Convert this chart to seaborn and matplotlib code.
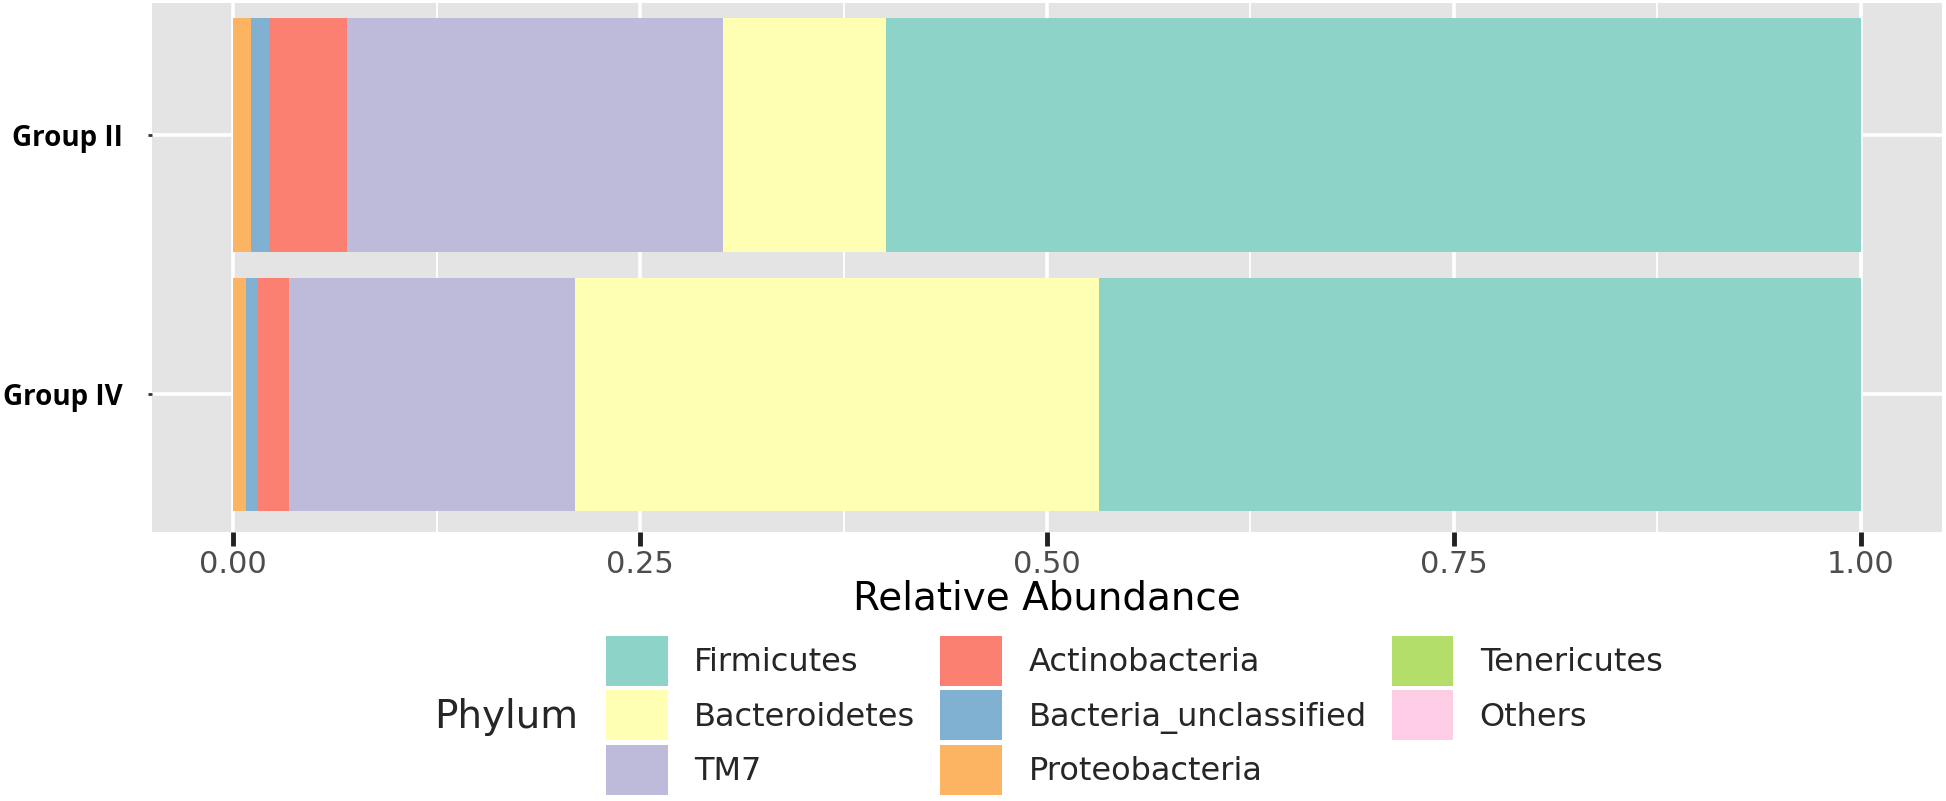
import matplotlib
matplotlib.use("Agg")
import matplotlib.pyplot as plt
from matplotlib.patches import Patch
import numpy as np
import pandas as pd
import seaborn as sns

groups = ["Group II", "Group IV"]
# legend order (factor levels); the last level sits at the left end of the stack
phyla = ["Firmicutes", "Bacteroidetes", "TM7", "Actinobacteria",
         "Bacteria_unclassified", "Proteobacteria", "Tenericutes", "Others"]
group_ii = [0.599, 0.100, 0.231, 0.048, 0.011, 0.011, 0.0, 0.0]
group_iv = [0.468, 0.322, 0.176, 0.019, 0.007, 0.008, 0.0, 0.0]
x_ticks = [0.0, 0.25, 0.5, 0.75, 1.0]
x_tick_labels = ["0.00", "0.25", "0.50", "0.75", "1.00"]

sns.set_style("darkgrid", {"axes.facecolor": "#E4E4E4", "grid.color": "white",
                           "xtick.bottom": True, "ytick.left": True})
plt.rcParams['font.family'] = ['DejaVu Sans']

palette = dict(zip(phyla, sns.color_palette("Set3", 8)))

df = pd.DataFrame({"group": np.repeat(groups, len(phyla)),
                   "phylum": phyla * 2,
                   "abundance": group_ii + group_iv})
df["phylum"] = pd.Categorical(df.phylum, categories=phyla[::-1], ordered=True)
df = df.sort_values(["group", "phylum"])
df["right"] = df.groupby("group")["abundance"].cumsum()

fig, ax = plt.subplots(figsize=(19.46, 8.01), dpi=100)
fig.subplots_adjust(left=0.0781, right=0.998, bottom=0.3358, top=0.9965)

# draw the stack from the right end backwards so each shorter bar sits on top
for p in phyla:
    sub = df[df.phylum == p]
    sns.barplot(data=sub, x="right", y="group", order=groups, color=palette[p],
                width=0.9, saturation=1, errorbar=None, linewidth=0, ax=ax)

ax.set_xlim(-0.05, 1.05)
ax.set_ylim(1.53, -0.508)
ax.set_xticks(x_ticks, x_tick_labels)
ax.set_xticks([0.125, 0.375, 0.625, 0.875], minor=True)
ax.set_axisbelow(True)
ax.grid(False)
ax.xaxis.grid(True, which='major', color='white', linewidth=2.6)
ax.xaxis.grid(True, which='minor', color='white', linewidth=1.3)
ax.yaxis.grid(True, which='major', color='white', linewidth=2.6)
for s in ax.spines.values():
    s.set_visible(False)

ax.tick_params(axis='x', which='major', direction='out', bottom=True, length=10,
               width=3.5, color='#222222', labelsize=22, labelcolor='#4D4D4D', pad=3)
ax.tick_params(axis='x', which='minor', bottom=False, length=0)
ax.tick_params(axis='y', which='major', direction='out', left=True, length=3,
               width=2, color='#333333', pad=18)
for lab in ax.get_yticklabels():
    lab.set_fontfamily(['Open Sans', 'DejaVu Sans'])
    lab.set_fontweight('bold')
    lab.set_fontsize(20)
    lab.set_color('black')

ax.set_ylabel("")
ax.set_xlabel("Relative Abundance", fontsize=28, color='black', labelpad=0)

handles = [Patch(facecolor=palette[p], edgecolor='none', label=p) for p in phyla]
fig.legend(handles=handles, loc='upper left', bbox_to_anchor=(0.3114, 0.206),
           ncol=3, frameon=False, fontsize=23, handlelength=1.94, handleheight=2.03,
           labelspacing=0.14, handletextpad=0.82, columnspacing=0.78,
           borderpad=0, borderaxespad=0)
fig.text(434 / 1946, 1 - 717 / 801, "Phylum", fontsize=28, ha='left', va='center')

fig.savefig("out.png", dpi=100)
